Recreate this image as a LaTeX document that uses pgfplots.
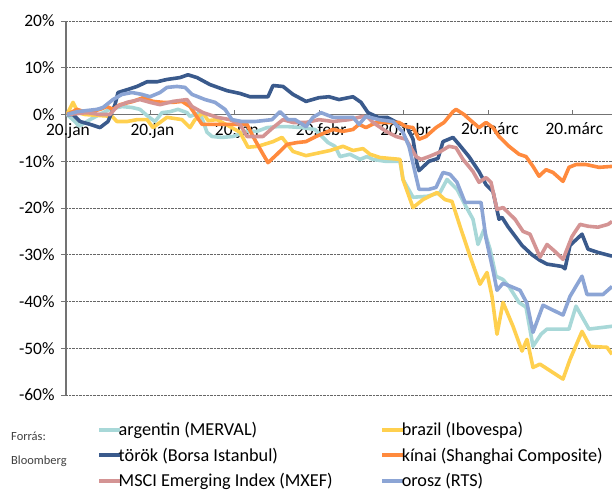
\documentclass[border=0pt]{standalone}
\usepackage{fontspec}
\setmainfont{Carlito}
\usepackage{pgfplots}
\pgfplotsset{compat=1.18}
\definecolor{cArg}{HTML}{A8D8D8}
\definecolor{cBra}{HTML}{FFD04F}
\definecolor{cTur}{HTML}{3A5A8C}
\definecolor{cChn}{HTML}{FF8A3D}
\definecolor{cMsci}{HTML}{D49494}
\definecolor{cRus}{HTML}{8CA5D5}
\begin{document}
\begin{tikzpicture}
\useasboundingbox (0,0) rectangle (612bp,493bp);
\begin{axis}[
  at={(66bp,98bp)}, anchor=south west,
  width=546bp, height=374bp, scale only axis,
  xmin=0, xmax=546, ymin=-60, ymax=20,
  axis x line=middle, axis y line=left,
  hide obscured x ticks=false, hide obscured y ticks=false,
  axis line style={-, draw=black!55, line width=1.1bp},
  xtick={0,84.4,168.8,253.2,337.6,422,506.4},
  xticklabels={20.jan,20.jan,20.jan,20.febr,20.febr,20.márc,20.márc},
  ytick={-60,-50,-40,-30,-20,-10,0,10,20},
  yticklabels={-60\%,-50\%,-40\%,-30\%,-20\%,-10\%,0\%,10\%,20\%},
  ymajorgrids, grid style={densely dotted, black!60, line width=0.6bp},
  major tick length=5bp,
  xtick align=inside, ytick align=outside,
  tick style={draw=black!55, line width=0.8bp},
  ticklabel style={font=\fontsize{17.5}{19}\selectfont, text=black},
  xticklabel style={xshift=2bp, yshift=-5bp},
  yticklabel style={xshift=-3bp},
  legend columns=2,
  legend cell align=left,
  legend image code/.code={\draw[#1, line width=4bp] (0bp,0bp) -- (21bp,0bp);},
  legend style={at={(0.0568,-0.072)}, anchor=north west, draw=none, fill=none,
    inner sep=0pt, row sep=9.5bp,
    nodes={inner sep=0.5bp, font=\fontsize{18.3}{20}\selectfont},
    /tikz/every odd column/.append style={column sep=-4bp},
    /tikz/every even column/.append style={column sep=47bp}},
  every axis plot/.append style={line width=3.6bp, line join=round},
]
\addplot[cArg] coordinates {(1,0)(9,-1.5)(13,-2.5)(24,-1.1)(37,0.4)(44,1.1)(56,1.7)(66,1.5)(74,1.1)(82,-0.4)(89,-1.5)(96,0.4)(104,0.6)(112,1.1)(121,0.4)(124,-0.4)(134,0.4)(141,-3.8)(146,-4.7)(156,-4.9)(167,-4.7)(181,-3.6)(191,-3.6)(201,-2.8)(211,-2.6)(222,-2.6)(236,-2.8)(249,-3.2)(256,-4.7)(262,-6.0)(269,-6.8)(274,-9.0)(284,-8.5)(294,-9.6)(301,-9.0)(307,-9.6)(319,-10.0)(334,-10.0)(337,-13.9)(347,-17.7)(361,-17.5)(374,-16.7)(381,-13.9)(391,-16.0)(400,-19.7)(407,-22.4)(412,-27.8)(418,-24.6)(424,-28.8)(430,-34.6)(437,-35.3)(443,-36.8)(453,-40.2)(460,-41.2)(467,-49.6)(475,-47)(481,-45.9)(503,-45.9)(510,-41.0)(523,-45.9)(546,-45.3)};
\addlegendentry{argentin (MERVAL)}
\addplot[cBra] coordinates {(1,0)(7,2.6)(12,0.4)(19,0)(46,-0.4)(51,-1.5)(61,-1.5)(71,-1.1)(81,-1.1)(87,-2.8)(94,-1.7)(101,-0.6)(116,-1.1)(124,-2.8)(129,-1.1)(137,0.4)(142,-1.3)(151,-1.1)(164,-2.6)(174,-3.8)(182,-7.0)(192,-6.8)(207,-5.8)(216,-4.9)(227,-7.9)(240,-8.8)(264,-7.7)(277,-6.8)(287,-7.7)(297,-7.3)(304,-8.5)(314,-9.2)(334,-9.6)(337,-13.9)(347,-19.9)(357,-18.2)(371,-16.7)(379,-18.2)(386,-18.6)(394,-23.9)(404,-30.3)(414,-36.3)(421,-33.8)(426,-38.9)(431,-47)(437,-40.2)(447,-45.3)(456,-50.6)(461,-48.1)(467,-54.1)(474,-53.4)(497,-56.6)(504,-52.4)(516,-46.4)(524,-49.6)(541,-49.8)(546,-51.3)};
\addlegendentry{brazil (Ibovespa)}
\addplot[cTur] coordinates {(1,0)(7,0)(14,-1.5)(24,-2.1)(34,-2.8)(42,-1.5)(49,2.1)(52,4.7)(61,5.3)(71,6.0)(81,7.0)(91,7.0)(101,7.5)(114,7.9)(122,8.5)(131,7.9)(144,6.4)(161,5.1)(174,4.5)(184,3.8)(194,3.8)(202,3.8)(207,6.2)(217,6.0)(227,4.3)(240,2.8)(253,3.6)(263,3.8)(273,3.2)(287,3.8)(295,2.6)(302,0.4)(312,-0.6)(321,-0.6)(331,-1.7)(341,-2.6)(347,-5.3)(351,-10.5)(353,-12)(363,-10)(372,-9.4)(377,-5.8)(387,-4.9)(393,-6.4)(403,-9)(413,-12.2)(420,-15)(427,-16.5)(433,-22.4)(436,-22)(442,-24)(456,-28)(466,-30)(474,-31.2)(481,-32)(496,-32.5)(499,-33)(504,-28)(509,-27)(516,-25.6)(522,-28.8)(532,-29.5)(546,-30.3)};
\addlegendentry{török (Borsa Istanbul)}
\addplot[cChn] coordinates {(1,0)(11,1.1)(21,0.4)(34,1.1)(41,1.7)(47,1.1)(54,2.1)(67,2.8)(77,3.6)(87,2.8)(97,2.6)(107,2.6)(116,2.8)(124,1.7)(136,-2.1)(147,-2.1)(167,-2.1)(181,-2.1)(187,-4.7)(196,-8.1)(202,-10.3)(211,-8.5)(221,-6.4)(231,-6.0)(240,-5.8)(250,-4.7)(260,-3.8)(267,-3.2)(277,-3.6)(287,-3.2)(293,-2.1)(300,-2.8)(310,-1.7)(320,-1.7)(333,-1.7)(340,-2.6)(347,-2.8)(353,-5.3)(360,-4.7)(370,-2.8)(378,-1.7)(387,0.6)(390,1.1)(398,0)(407,-1.7)(413,-2.8)(420,-1.7)(427,-2.8)(433,-4.7)(443,-6.8)(453,-8.5)(460,-9.0)(467,-11.1)(473,-13.2)(480,-11.8)(487,-12.4)(497,-14.3)(503,-11.3)(510,-10.7)(520,-10.7)(533,-11.3)(546,-11.1)};
\addlegendentry{kínai (Shanghai Composite)}
\addplot[cMsci] coordinates {(1,0)(21,0.4)(34,0)(44,0)(51,1.7)(61,2.6)(74,3.2)(84,2.6)(94,2.1)(107,2.8)(121,3.2)(126,1.7)(137,0.4)(151,-0.6)(164,-1.1)(174,-2.1)(181,-4.7)(197,-4.7)(207,-2.8)(217,-1.1)(227,-1.7)(240,-1.7)(253,-1.1)(267,-1.5)(283,-1.1)(297,-0.4)(302,-0.6)(307,-1.7)(320,-3.6)(330,-4.7)(340,-5.3)(350,-9.0)(355,-9.6)(363,-9.0)(373,-8.1)(383,-6.8)(390,-7.1)(397,-9.6)(407,-12.2)(413,-14.5)(420,-13.5)(425,-14.5)(431,-20.3)(437,-19.9)(449,-22.4)(457,-25.0)(464,-25.6)(474,-30.5)(481,-27.8)(489,-29.3)(497,-31.0)(506,-26.1)(514,-23.5)(522,-23.9)(532,-24.1)(542,-23.5)(546,-22.9)};
\addlegendentry{MSCI Emerging Index (MXEF)}
\addplot[cRus] coordinates {(1,0)(11,0.6)(31,1.1)(37,1.5)(47,3.2)(56,4.3)(66,4.7)(76,4.3)(84,3.8)(94,4.7)(101,5.8)(111,6.0)(119,5.8)(126,4.3)(139,3.2)(149,2.6)(159,1.1)(166,-1.1)(176,-1.5)(189,-1.5)(206,-1.1)(214,0.6)(222,-1.1)(229,-1.1)(240,-2.6)(247,-0.6)(255,0.4)(267,-0.6)(287,-0.6)(293,-2.1)(300,-0.4)(313,-1.1)(327,-1.5)(337,-3.8)(343,-6.8)(353,-16.0)(363,-16.0)(370,-15.6)(377,-12.4)(384,-12.8)(391,-14.5)(399,-18.8)(415,-18.8)(420,-26.5)(427,-33.3)(431,-37.6)(437,-36.1)(454,-37.6)(461,-40.4)(467,-46.6)(477,-40.8)(497,-42.9)(504,-38.9)(516,-34.6)(521,-38.5)(537,-38.5)(546,-36.8)};
\addlegendentry{orosz (RTS)}
\end{axis}
\node[anchor=north west, inner sep=0pt, align=left, text=black!75, font=\fontsize{12.5}{24}\selectfont] at (11bp,61bp) {Forrás:\\Bloomberg};
\end{tikzpicture}
\end{document}
